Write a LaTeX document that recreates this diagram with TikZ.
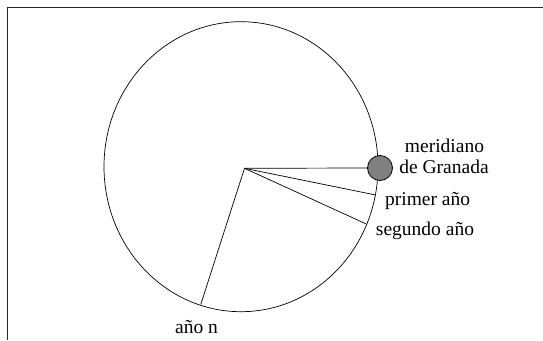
\documentclass[tikz,border=0pt]{standalone}
\usepackage{fontspec}
\setmainfont{Liberation Serif}
\begin{document}
\begin{tikzpicture}[x=1pt,y=-1pt,
  lbl/.style={font=\fontsize{19.5}{21}\selectfont, inner sep=0pt, anchor=base},
  thin line/.style={line width=0.7pt, draw=black}]
\useasboundingbox (0,0) rectangle (543,340);
% frame (open at right and bottom)
\draw[line width=1.4pt, draw=black!85] (7.5,340) -- (7.5,7.5) -- (543,7.5);
% circle
\coordinate (c) at (241,166.7);
\draw[thin line] (c) ellipse [x radius=137, y radius=145];
% radii
\node[circle, draw=black, line width=0.8pt, fill=black!50, minimum size=25pt, inner sep=0pt] (g) at (380,168) {};
\coordinate (p1) at (375.7,195);
\coordinate (p2) at (366.3,224);
\coordinate (pn) at (200.8,304.3);
\coordinate (o) at (244.5,168.3);
\draw[thin line] (o) -- (g.west);
\draw[thin line] (o) -- (p1);
\draw[thin line] (o) -- (p2);
\draw[thin line] (o) -- (pn);
% labels
\node[lbl] (m1) at (444.5,152.7) {meridiano};
\node[lbl] (m2) at (444,173.3) {de Granada};
\node[lbl] (l1) at (427.6,205) {primer año};
\node[lbl] (l2) at (425,235) {segundo año};
\node[lbl] (ln) at (196.5,333) {año n};
\end{tikzpicture}
\end{document}
